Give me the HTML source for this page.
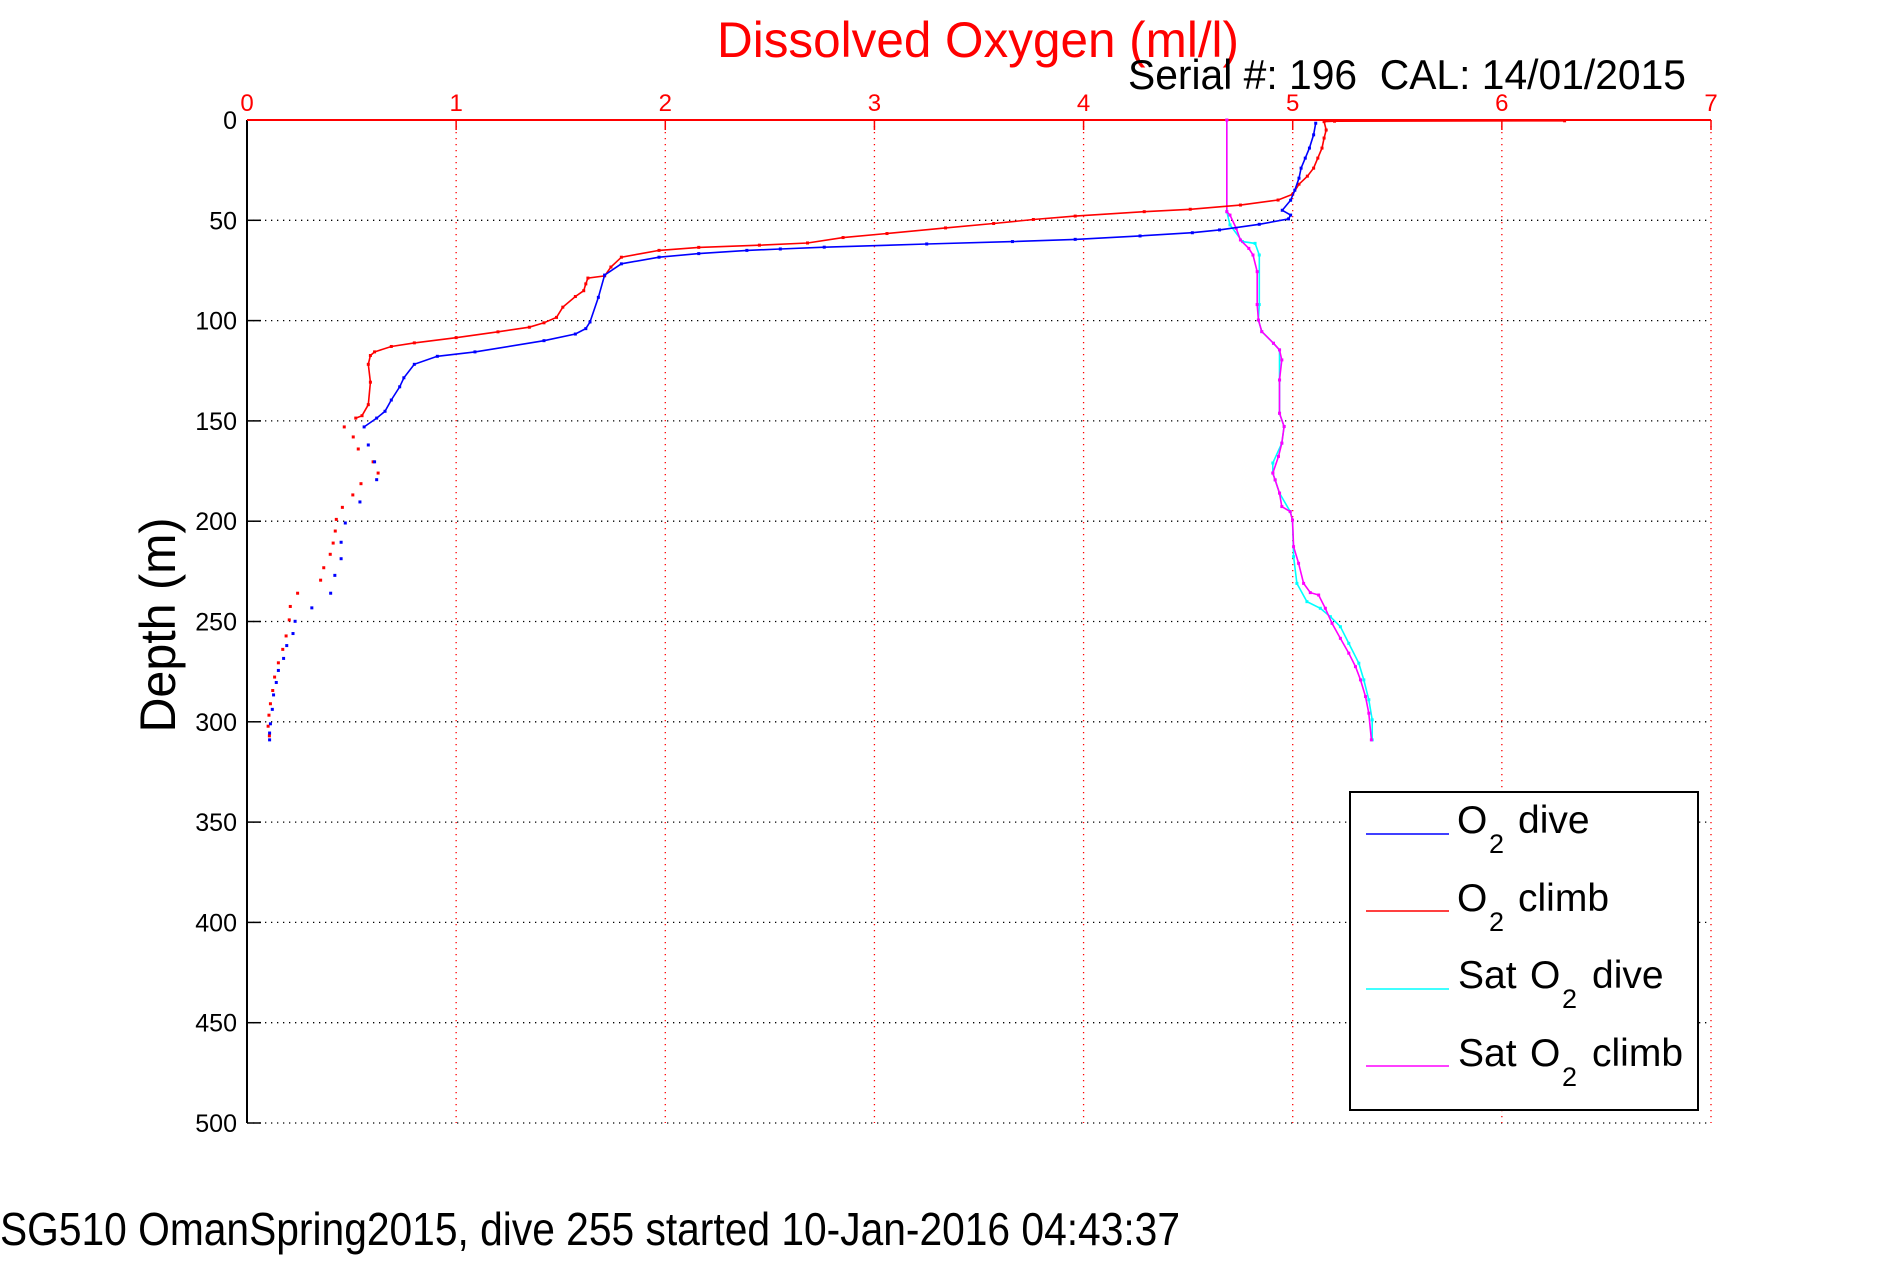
<!DOCTYPE html>
<html><head><meta charset="utf-8"><style>
html,body{margin:0;padding:0;background:#fff;}
svg{display:block;font-family:"Liberation Sans",sans-serif;}
</style></head><body>
<svg id="chart" width="1891" height="1262" viewBox="0 0 1891 1262" xmlns="http://www.w3.org/2000/svg">
<rect x="0" y="0" width="1891" height="1262" fill="#fff"/>
<g id="grid"></g>
<g id="axes"></g>
<g id="series"></g>
<text x="717" y="57" font-size="50" fill="#ff0000" textLength="522" lengthAdjust="spacingAndGlyphs">Dissolved Oxygen (ml/l)</text>
<text x="1128" y="89" font-size="42" fill="#000" textLength="558" lengthAdjust="spacingAndGlyphs">Serial #: 196 &#160;CAL: 14/01/2015</text>
<text transform="translate(175,625) rotate(-90)" text-anchor="middle" font-size="50" fill="#000" textLength="215" lengthAdjust="spacingAndGlyphs">Depth (m)</text>
<text x="0" y="1245" font-size="46" fill="#000" textLength="1180" lengthAdjust="spacingAndGlyphs">SG510 OmanSpring2015, dive 255 started 10-Jan-2016 04:43:37</text>
<g>
<rect x="1350" y="792" width="348" height="318" fill="#fff" stroke="#000" stroke-width="2"/>
<g>
<line x1="1366" y1="834" x2="1449" y2="834" stroke="#0000ff" stroke-width="1.5"/>
<text x="1457" y="833" font-size="39">O</text><text x="1489" y="853" font-size="27">2</text><text x="1518" y="833" font-size="39">dive</text></g>
<g>
<line x1="1366" y1="911" x2="1449" y2="911" stroke="#ff0000" stroke-width="1.5"/>
<text x="1457" y="911" font-size="39">O</text><text x="1489" y="931" font-size="27">2</text><text x="1518" y="911" font-size="39">climb</text></g>
<g>
<line x1="1366" y1="989" x2="1449" y2="989" stroke="#00ffff" stroke-width="1.5"/>
<text x="1458" y="988" font-size="39">Sat</text><text x="1530" y="988" font-size="39">O</text><text x="1562" y="1008" font-size="27">2</text><text x="1592" y="988" font-size="39">dive</text></g>
<g>
<line x1="1366" y1="1066" x2="1449" y2="1066" stroke="#ff00ff" stroke-width="1.5"/>
<text x="1458" y="1066" font-size="39">Sat</text><text x="1530" y="1066" font-size="39">O</text><text x="1562" y="1086" font-size="27">2</text><text x="1592" y="1066" font-size="39">climb</text></g>
</g>
</svg>
<script>
// ---- data ----
const xTicks = [0,1,2,3,4,5,6,7];
const yTicks = [0,50,100,150,200,250,300,350,400,450,500];
const diveO2 = [5.11,5.10,5.08,5.06,5.04,5.03,5.01,4.99,4.95,4.99,4.98,4.84,4.65,4.52,4.27,3.96,3.66,3.25,2.76,2.55,2.39,2.16,1.97,1.79,1.71,1.68,1.64,1.62,1.57,1.42,1.09,0.91,0.80,0.75,0.73,0.69,0.66,0.62,0.56];
const diveDepth = [1.6,7.4,14,19,24,29,35,40,45,47.4,49.3,52,54.8,56.2,57.8,59.5,60.6,61.8,63.4,64.3,65,66.6,68.4,71.7,77.3,88.4,100.7,104,106.7,110,115.6,117.8,121.8,128.5,133,139.6,145.2,148.6,153];
const diveDotO2 = [0.58,0.61,0.62,0.54,0.47,0.45,0.45,0.42,0.40,0.31,0.23,0.22,0.19,0.175,0.15,0.14,0.127,0.121,0.112,0.108,0.108];
const diveDotDepth = [162,170.4,179.3,190.4,200.9,210.5,218.7,227,235.9,243.2,249.9,256,262,268.4,274.4,280.4,286.6,293.8,301,305.6,309];
const climbO2 = [6.30,5.20,5.15,5.16,5.15,5.14,5.12,5.10,5.07,5.03,5.00,4.93,4.75,4.51,4.29,3.96,3.76,3.57,3.34,3.06,2.85,2.68,2.45,2.16,1.97,1.79,1.74,1.71,1.63,1.62,1.61,1.57,1.51,1.48,1.42,1.35,1.20,1.00,0.80,0.69,0.61,0.59,0.58,0.59,0.58,0.55,0.52];
const climbDepth = [0.4,0.6,0.8,5,9,14,19,24,28,32,37,39.9,42.4,44.5,45.7,47.9,49.6,51.6,53.8,56.6,58.6,61.3,62.4,63.5,65,68.4,73.3,77.7,78.8,81.7,85.1,88,93.3,98.4,101.1,103.3,105.6,108.5,111.1,112.9,115.6,117.4,121.8,130.7,141.9,147.4,148.6];
const climbDotO2 = [0.465,0.508,0.532,0.603,0.627,0.545,0.506,0.456,0.427,0.422,0.412,0.398,0.367,0.352,0.242,0.207,0.202,0.187,0.171,0.15,0.132,0.123,0.112,0.105,0.101,0.107];
const climbDotDepth = [153,158,164,170.4,176,181.3,186.9,193.1,199.1,204.9,210.9,216.5,223.2,229.4,235.9,242.5,249.2,257.2,263.9,270.6,277.7,284.4,291,296.7,302.2,307];
const satDiveO2 = [4.685,4.685,4.70,4.76,4.82,4.84,4.84,4.836,4.852,4.908,4.937,4.937,4.937,4.959,4.948,4.905,4.905,4.916,4.937,4.988,4.999,5.004,5.020,5.068,5.132,5.18,5.228,5.268,5.316,5.34,5.364,5.38,5.38];
const satDiveDepth = [0,45.7,52.3,60.6,61.5,67.3,92,99.7,105.5,111.3,114.6,129.6,146.2,152.8,161.1,171,176,179.4,186,195.2,199.4,217.7,231,240.1,243.4,247.6,252.6,260.9,270.8,279.1,289,299,309];
const satClimbO2 = [4.685,4.685,4.70,4.73,4.75,4.79,4.81,4.83,4.83,4.836,4.852,4.908,4.937,4.948,4.937,4.937,4.959,4.948,4.932,4.905,4.916,4.937,4.948,4.988,4.999,5.004,5.028,5.052,5.084,5.124,5.156,5.188,5.228,5.268,5.30,5.324,5.348,5.364,5.376];
const satClimbDepth = [0,45.7,47.4,54,59.8,64,67.3,75.6,92,99.7,105.5,111.3,114.6,119.6,129.6,146.2,152.8,161.1,167.7,176,179.4,186,192.7,195.2,199.4,212.7,221,231,235.6,236.8,243.4,250.9,258.4,265.8,272.5,279.1,287.4,295.7,309];

// ---- axes ----
const X0=247, X1=1711, Y0=120, Y1=1123;
const sx = v => X0 + (v-0)/(7-0)*(X1-X0);
const sy = d => Y0 + (d-0)/(500-0)*(Y1-Y0);
const NS="http://www.w3.org/2000/svg";
function mk(tag, parent, attrs){ const e=document.createElementNS(NS,tag); for(const k in attrs) e.setAttribute(k,attrs[k]); parent.appendChild(e); return e; }

const grid=document.getElementById('grid');
const axes=document.getElementById('axes');
const series=document.getElementById('series');

yTicks.forEach(t=>{
  const g=mk('line',grid,{x1:X0,x2:X1,y1:sy(t),y2:sy(t),stroke:'#000','stroke-width':1.3,'stroke-dasharray':'1.3 4.7'});
  
  
  const tk=mk('line',axes,{x1:X0,x2:X0+14,y1:sy(t),y2:sy(t),stroke:'#000','stroke-width':1.5});
  
  
  const lb=mk('text',axes,{x:237,y:sy(t)+9,'text-anchor':'end','font-size':25,fill:'#000'});
  lb.textContent=String(t);
  
  
});
xTicks.forEach(t=>{
  if(t>0){
    const g=mk('line',grid,{x1:sx(t),x2:sx(t),y1:Y0,y2:Y1,stroke:'#ff0000','stroke-width':1.3,'stroke-dasharray':'1.3 4.7'});
    
    
  }
  const tk=mk('line',axes,{x1:sx(t),x2:sx(t),y1:Y0,y2:Y0+10,stroke:'#ff0000','stroke-width':1.5});
  
  
  const lb=mk('text',axes,{x:sx(t),y:111,'text-anchor':'middle','font-size':24,fill:'#ff0000'});
  lb.textContent=String(t);
  
  
});
const la=mk('line',axes,{x1:X0,x2:X0,y1:Y0,y2:Y1,stroke:'#000','stroke-width':2});


const ta=mk('line',axes,{x1:X0,x2:X1,y1:Y0,y2:Y0,stroke:'#ff0000','stroke-width':2});



function drawLine(vals, deps, color, name){
  const pts=vals.map((v,i)=>sx(v).toFixed(1)+','+sy(deps[i]).toFixed(1)).join(' ');
  const p=mk('polyline',series,{points:pts,fill:'none',stroke:color,'stroke-width':1.6});
  
  
  vals.forEach((v,i)=>{
    const c=mk('rect',series,{x:sx(v)-1.5,y:sy(deps[i])-1.5,width:3,height:3,fill:color});
    
    
  });
}
function drawDots(vals, deps, color, name){
  vals.forEach((v,i)=>{
    const c=mk('rect',series,{x:sx(v)-1.5,y:sy(deps[i])-1.5,width:3,height:3,fill:color});
    
    
  });
}
drawLine(satDiveO2, satDiveDepth, '#00ffff', 'sat-o2-dive-line');
drawLine(satClimbO2, satClimbDepth, '#ff00ff', 'sat-o2-climb-line');
drawLine(climbO2, climbDepth, '#ff0000', 'o2-climb-line');
drawDots(climbDotO2, climbDotDepth, '#ff0000', 'o2-climb-deep-point');
drawLine(diveO2, diveDepth, '#0000ff', 'o2-dive-line');
drawDots(diveDotO2, diveDotDepth, '#0000ff', 'o2-dive-deep-point');
</script>
</body></html>
